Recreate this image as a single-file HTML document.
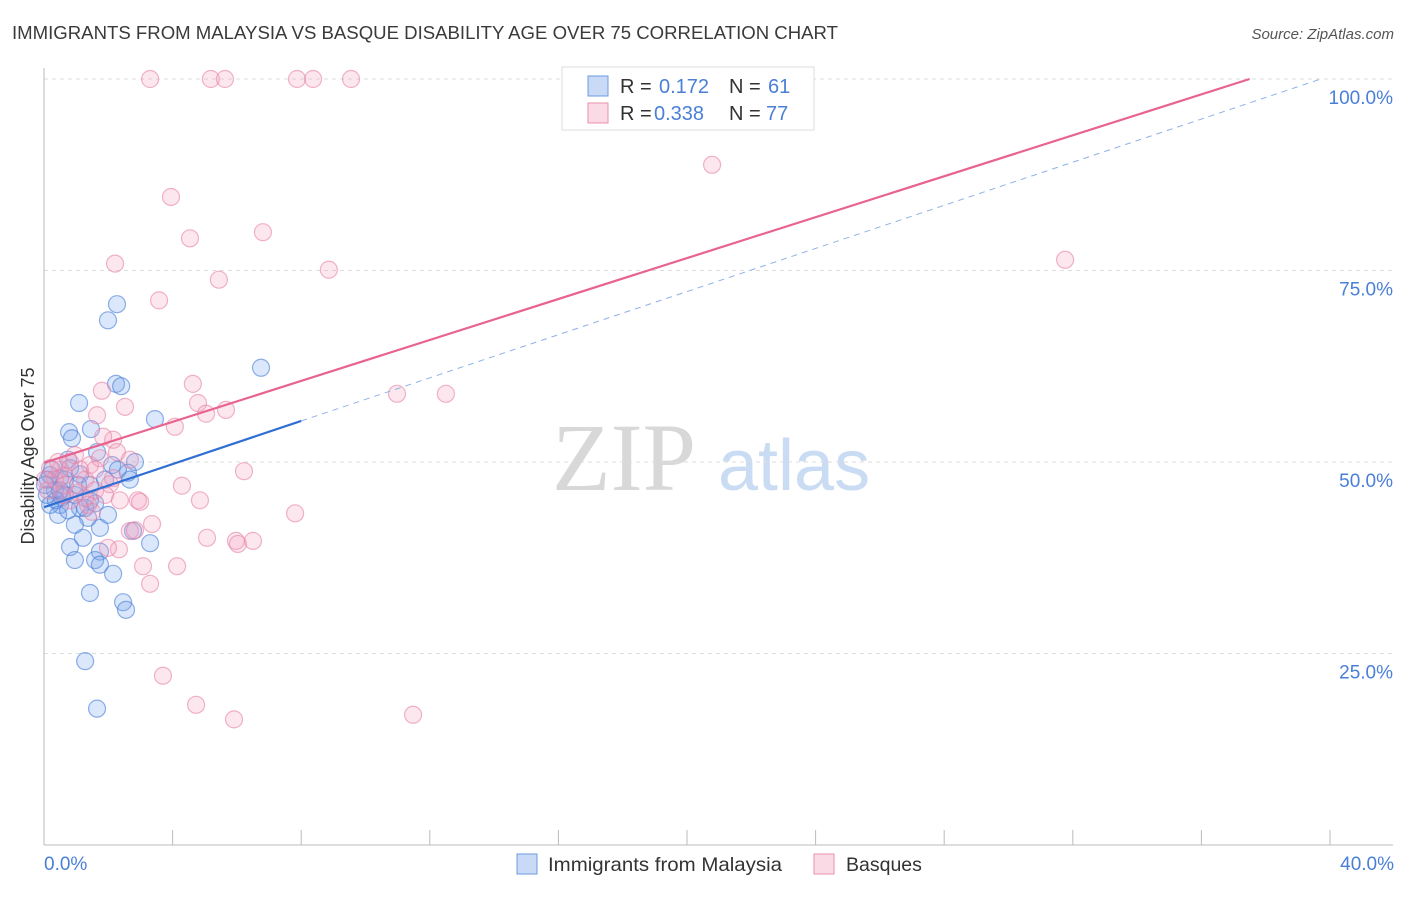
<!DOCTYPE html>
<html><head><meta charset="utf-8"><style>
body{margin:0;background:#fff;font-family:"Liberation Sans",sans-serif;}
svg text{font-family:"Liberation Sans",sans-serif;}
</style></head><body>
<svg id="chart" width="1406" height="892" xmlns="http://www.w3.org/2000/svg">
<text x="12" y="39" font-size="18" fill="#3a3a3a" textLength="826" lengthAdjust="spacingAndGlyphs">IMMIGRANTS FROM MALAYSIA VS BASQUE DISABILITY AGE OVER 75 CORRELATION CHART</text>
<text x="1394" y="39" font-size="15" fill="#555" font-style="italic" text-anchor="end">Source: ZipAtlas.com</text>
<g>
<text x="552" y="490" font-size="96" fill="#d8d8d8" font-family="Liberation Serif,serif" style="font-family:'Liberation Serif',serif">ZIP</text>
<text x="718" y="490" font-size="72" fill="#c9dcf3">atlas</text>
</g>
<g id="grid"></g>
<g id="axes"></g>
<g id="marks"></g>
<text transform="translate(34,456) rotate(-90)" font-size="18" fill="#333" text-anchor="middle">Disability Age Over 75</text>
<text x="44" y="870" font-size="19" fill="#4a7fd8">0.0%</text>
<text x="1394" y="870" font-size="19" fill="#4a7fd8" text-anchor="end">40.0%</text>
<g>
<rect x="562" y="67" width="252" height="63" fill="#fff" stroke="#ddd"/>
<rect x="588" y="76" width="20" height="20" fill="rgba(100,150,230,0.35)" stroke="#6b9be0"/>
<text x="620" y="93" font-size="20" fill="#333">R = </text><text x="659" y="93" font-size="20" fill="#4a7fd8">0.172</text>
<text x="729" y="93" font-size="20" fill="#333">N = </text><text x="768" y="93" font-size="20" fill="#4a7fd8">61</text>
<rect x="588" y="103" width="20" height="20" fill="rgba(240,150,180,0.35)" stroke="#e990ad"/>
<text x="620" y="120" font-size="20" fill="#333">R = </text><text x="654" y="120" font-size="20" fill="#4a7fd8">0.338</text>
<text x="729" y="120" font-size="20" fill="#333">N = </text><text x="766" y="120" font-size="20" fill="#4a7fd8">77</text>
</g>
<g>
<rect x="517" y="854" width="20" height="20" fill="rgba(100,150,230,0.35)" stroke="#6b9be0"/>
<text x="548" y="871" font-size="19.5" fill="#333" textLength="234" lengthAdjust="spacingAndGlyphs">Immigrants from Malaysia</text>
<rect x="814" y="854" width="20" height="20" fill="rgba(240,150,180,0.35)" stroke="#e990ad"/>
<text x="846" y="871" font-size="19.5" fill="#333">Basques</text>
</g>
</svg>
<script>
const blueX=[1.09,0.78,0.87,1.46,2.27,1.99,2.24,2.40,3.45,6.75,2.12,2.83,2.61,1.65,0.75,1.12,0.50,0.19,0.34,0.65,0.96,1.43,1.59,0.50,0.19,0.44,1.37,1.74,0.96,1.21,0.81,0.96,1.74,1.59,1.74,2.15,1.43,2.46,2.55,3.30,2.77,1.28,1.65,0.12,0.25,0.65,1.06,0.81,0.56,1.12,0.09,0.37,1.99,2.67,0.03,0.75,1.28,1.90,2.30,1.43,0.50];
const blueY=[57.7,53.9,53.1,54.3,70.6,68.5,60.2,59.9,55.6,62.3,49.6,50.0,48.6,51.3,50.3,48.4,47.9,48.3,46.3,45.7,45.7,45.0,44.6,44.4,44.4,43.1,42.7,41.4,41.8,40.1,38.9,37.2,38.3,37.2,36.6,35.4,32.9,31.7,30.7,39.4,41.0,24.0,17.8,47.7,49.0,47.7,47.0,49.2,45.4,44.0,45.7,45.0,43.1,47.7,47.0,43.7,44.0,47.7,49.0,47.0,46.3];
const pinkX=[3.30,5.19,5.63,7.87,8.37,9.55,20.78,3.95,4.54,6.81,2.21,8.86,5.44,3.58,31.76,4.63,1.80,10.98,12.50,2.52,1.65,4.79,5.66,5.04,4.07,2.15,1.84,2.27,2.67,6.22,4.29,4.85,2.92,2.99,1.43,1.28,0.81,0.50,0.19,0.12,0.62,1.06,1.59,2.05,2.15,7.81,5.07,5.97,6.50,6.03,3.36,2.67,2.33,1.99,3.08,4.14,3.30,3.70,4.73,5.91,11.48,1.74,0.96,1.37,1.49,0.34,0.65,1.12,0.44,0.03,1.90,2.36,0.81,2.83,0.56,1.28,1.59];
const pinkY=[100,100,100,100,100,100,88.8,84.6,79.2,80.0,75.9,75.1,73.8,71.1,76.4,60.2,59.3,58.9,58.9,57.2,56.1,57.7,56.8,56.3,54.6,52.9,53.3,51.3,50.3,48.8,46.9,45.0,45.0,44.8,49.6,47.7,50.0,49.0,49.2,46.3,48.2,46.0,46.3,47.1,47.9,43.3,40.1,39.7,39.7,39.3,41.9,41.0,38.6,38.8,36.4,36.4,34.1,22.1,18.3,16.4,17.0,50.5,50.9,44.4,43.5,47.7,47.0,49.0,50.0,47.7,45.7,45.0,45.0,41.1,45.7,45.3,49.0];
const yTicks=[25,50,75,100];
const yTickLabels=["25.0%","50.0%","75.0%","100.0%"];
const xTicks=[0,4,8,12,16,20,24,28,32,36,40];
const blueFit=[44.1,100.4];
const blueSolidEnd=8;
const pinkFit=[49.9,100]; const pinkEndX=37.5;
const X=v=>44+v/40*1286, Y=v=>845-v/100*766;
const NS="http://www.w3.org/2000/svg";
function mk(tag,attrs,parent){const e=document.createElementNS(NS,tag);for(const k in attrs)e.setAttribute(k,attrs[k]);document.getElementById(parent).appendChild(e);return e;}
yTicks.forEach((t,i)=>{
 const l=mk('line',{x1:44,x2:1393,y1:Y(t),y2:Y(t),stroke:'#ddd','stroke-dasharray':'4,4'},'grid');
 
 
 const tx=mk('text',{x:1393,y:Y(t)+25,'font-size':19,fill:'#4a7fd8','text-anchor':'end'},'grid');
 tx.textContent=yTickLabels[i];
 
 
});
let a=mk('line',{x1:44,x2:44,y1:68,y2:845,stroke:'#bbb'},'axes');


a=mk('line',{x1:44,x2:1393,y1:845,y2:845,stroke:'#bbb'},'axes');


xTicks.forEach(t=>{const l=mk('line',{x1:X(t),x2:X(t),y1:830,y2:845,stroke:'#bbb'},'axes');
 
 });
blueX.forEach((x,i)=>{const c=mk('circle',{cx:X(x),cy:Y(blueY[i]),r:8.5,fill:'rgba(110,160,235,0.25)',stroke:'rgba(70,125,215,0.6)','stroke-width':1.2},'marks');
 
 });
pinkX.forEach((x,i)=>{const c=mk('circle',{cx:X(x),cy:Y(pinkY[i]),r:8.5,fill:'rgba(245,160,190,0.25)',stroke:'rgba(230,130,165,0.6)','stroke-width':1.2},'marks');
 
 });
const by=x=>blueFit[0]+(blueFit[1]-blueFit[0])*x/40;
let l=mk('line',{x1:X(blueSolidEnd),y1:Y(by(blueSolidEnd)),x2:X(39.7),y2:Y(by(39.7)),stroke:'#8fb2e6','stroke-width':1,'stroke-dasharray':'6,5'},'marks');


l=mk('line',{x1:X(0),y1:Y(by(0)),x2:X(blueSolidEnd),y2:Y(by(blueSolidEnd)),stroke:'#2f6fd4','stroke-width':2.2},'marks');


l=mk('line',{x1:X(0),y1:Y(pinkFit[0]),x2:X(pinkEndX),y2:Y(pinkFit[1]),stroke:'#e8638f','stroke-width':2.2},'marks');


</script>
</body></html>
